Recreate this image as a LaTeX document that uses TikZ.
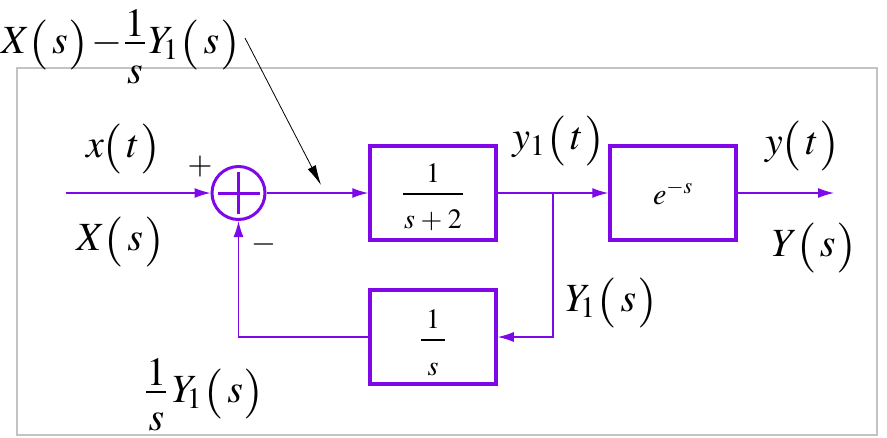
\documentclass[tikz,border=0pt]{standalone}
\usepackage{amsmath}
\usepackage{mathptmx}
\usepackage{fontspec}
\setmainfont{Liberation Serif}
\usetikzlibrary{arrows.meta}
\definecolor{sigpurple}{RGB}{127,8,232}
\definecolor{framegrey}{RGB}{195,195,195}
\newcommand{\lblsize}{\fontsize{40}{42}\selectfont}
% tall thin parentheses as in the reference
\newcommand{\pl}{\mathopen{\raisebox{-4pt}{\fontsize{50}{50}\selectfont$($}}\mkern1.5mu}
\newcommand{\pr}{\mkern0.5mu\mathclose{\raisebox{-4pt}{\fontsize{50}{50}\selectfont$)$}}}
% MathType-like fraction: #1 numerator, #2 denominator, #3 lowering of numerator, #4 lowering of denominator
\newcommand{\mtfrac}[4]{\genfrac{}{}{1.4pt}{0}{\lower#3\hbox{$#1$}}{\lower#4\hbox{$#2$}}}
\newcommand{\Yone}{Y_{\mkern-2mu 1}\mkern1mu}
\tikzset{
  sig/.style={draw=sigpurple,line width=1.3pt},
  sigarrow/.style={sig,-{Latex[length=16pt,width=10pt]}},
  block/.style={draw=sigpurple,line width=3.5pt,minimum width=126pt,minimum height=94pt,inner sep=0pt},
  sumnode/.style={draw=sigpurple,line width=3pt,circle,minimum size=53pt,inner sep=0pt},
  lbl/.style={inner sep=0pt,font=\lblsize},
  signlbl/.style={inner sep=0pt,font=\fontsize{32}{34}\selectfont},
  annot/.style={draw=black,line width=0.8pt,-{Latex[length=20pt,width=9pt]}}
}
\begin{document}
\begin{tikzpicture}[x=1pt,y=-1pt]
\useasboundingbox (0,0) rectangle (887,437);
\draw[framegrey,line width=1.5pt] (17,68) rectangle (877,435);
% blocks
\node[sumnode] (sum) at (238.5,193) {};
\draw[sigpurple,line width=3pt] ([xshift=-21pt]sum.center) -- ([xshift=21pt]sum.center);
\draw[sigpurple,line width=3pt] ([yshift=-21pt]sum.center) -- ([yshift=21pt]sum.center);
\node[block] (b1) at (433,193) {};
\node[block] (b2) at (673,193) {};
\node[block] (b3) at (433,337) {};
\node[inner sep=0pt,anchor=base,font=\fontsize{28}{30}\selectfont] (b1t) at (433,201)
  {$\mtfrac{1}{\mkern1mu s\mkern1mu+\mkern1mu2\mkern1mu}{0pt}{8pt}$};
\node[inner sep=0pt,font=\fontsize{30}{32}\selectfont] (b2t) at (b2.center) {$e^{-s}$};
\node[inner sep=0pt,anchor=base,font=\fontsize{28}{30}\selectfont] (b3t) at (433,347)
  {$\mtfrac{\mkern3mu1\mkern3mu}{s}{0pt}{9pt}$};
% coordinates
\coordinate (in) at (66,193);
\coordinate (out) at (834,193);
\coordinate (br) at (553,193);
% connectors
\draw[sigarrow] (in) -- (sum.west);
\draw[sigarrow] (sum.east) -- (b1.west);
\draw[sigarrow] (b1.east) -- (b2.west);
\draw[sigarrow] (b2.east) -- (out);
\draw[sigarrow] (br) |- (b3.east);
\draw[sigarrow] (b3.west) -| (sum.south);
% labels
\node[lbl,anchor=base] (xt) at (123,157) {$x\pl t\pr$};
\node[lbl,anchor=base] (Xs) at (120,250) {$X\pl s\pr$};
\node[lbl,anchor=base] (y1t) at (558,149) {$y_{1}\mkern1mu\pl t\pr$};
\node[lbl,anchor=base] (yt) at (802,154) {$y\pl t\pr$};
\node[lbl,anchor=base] (Ys) at (814,256) {$Y\pl s\pr$};
\node[lbl,anchor=base] (Y1s) at (611,311) {$\Yone\pl s\pr$};
\node[lbl,anchor=base west] (top) at (1,53)
  {$X\pl s\pr\mkern-1mu-\mkern-2mu\mtfrac{1}{s}{11pt}{3pt}\mkern1mu\Yone\pl s\pr$};
\node[lbl,anchor=base west] (bot) at (145,402)
  {$\mtfrac{1}{s}{11pt}{1pt}\mkern2mu\Yone\pl s\pr$};
\node[signlbl] (plus) at (200,167) {$+$};
\node[signlbl] (minus) at (264,244) {$-$};
% annotation arrow
\coordinate (annS) at (245,38);
\coordinate (annT) at (321,185);
\draw[annot] (annS) -- (annT);
\end{tikzpicture}
\end{document}
